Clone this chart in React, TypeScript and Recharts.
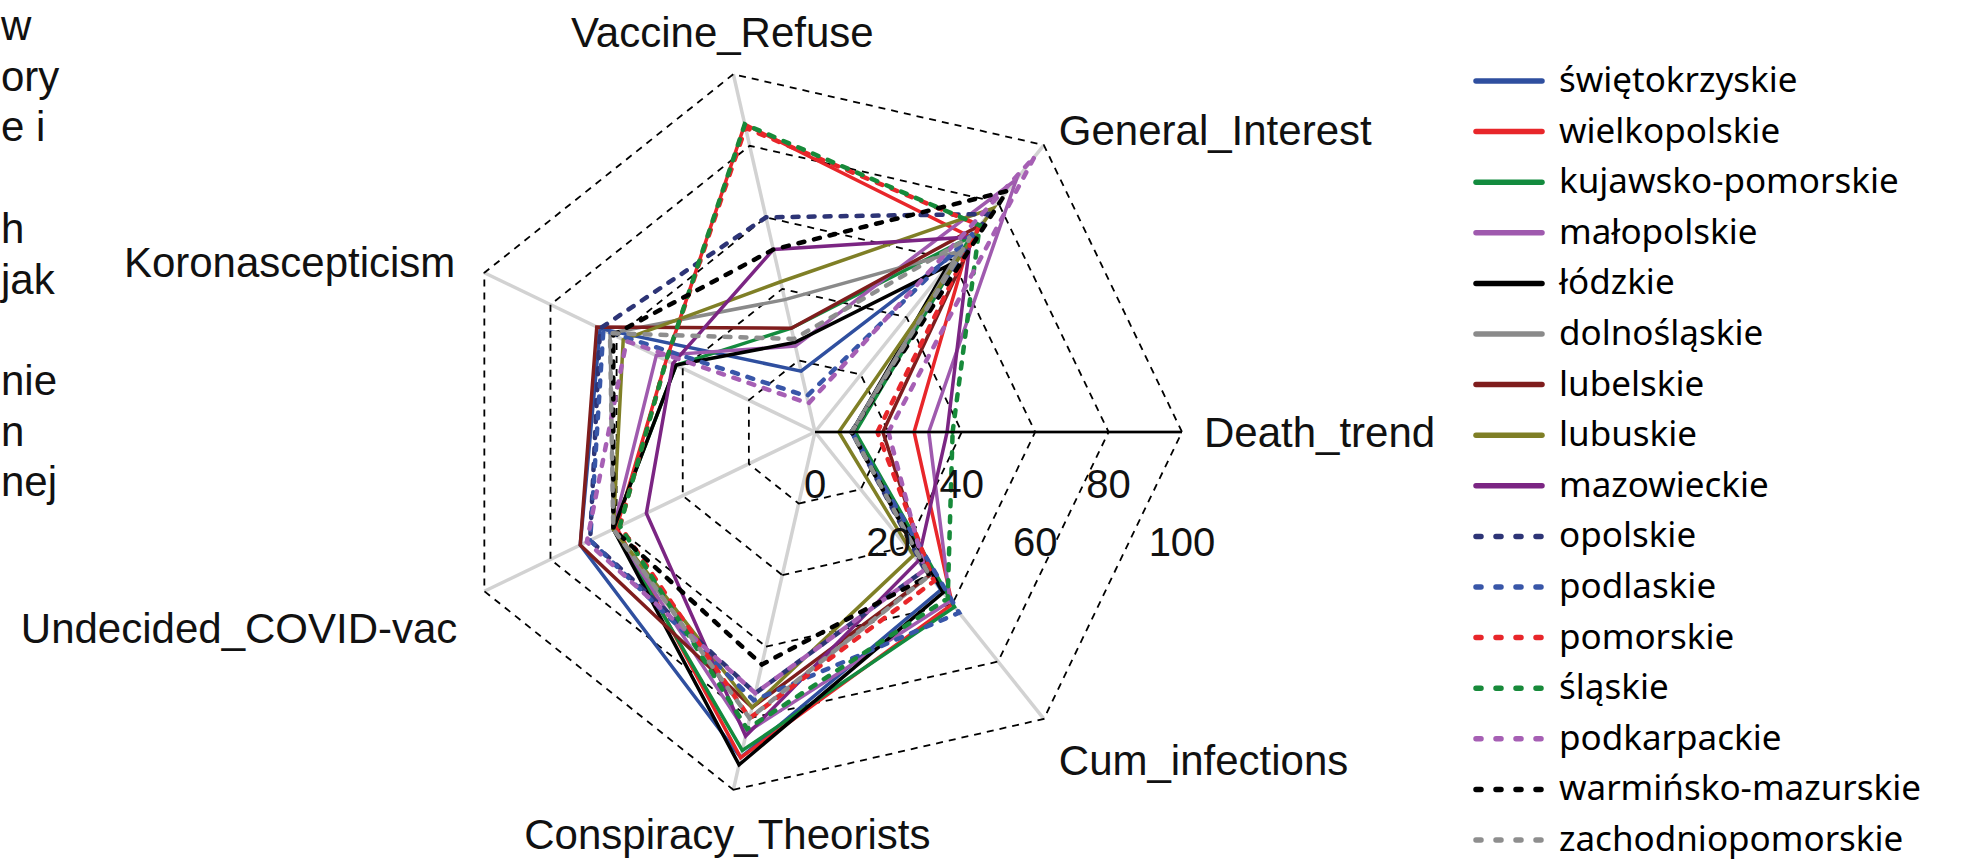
import { Legend, PolarAngleAxis, PolarGrid, PolarRadiusAxis, Radar, RadarChart } from "recharts";

const AXES = [
  "Death_trend",
  "General_Interest",
  "Vaccine_Refuse",
  "Koronascepticism",
  "Undecided_COVID-vac",
  "Conspiracy_Theorists",
  "Cum_infections",
];

// values per region, in AXES order
const swietokrzyskie = [10, 64, 17, 65, 71, 91, 55];
const wielkopolskie = [27, 68, 86, 45, 60, 91, 60];
const kujawskoPomorskie = [11, 68, 29, 42, 61, 89, 61];
const malopolskie = [31, 88, 24, 48, 61, 84, 59];
const lodzkie = [10, 58, 25, 42, 61, 93, 56];
const dolnoslaskie = [10, 63, 37, 62, 61, 80, 50];
const lubelskie = [18.5, 72, 29, 66, 71, 77, 50];
const lubuskie = [6.5, 78, 42, 58, 61, 77, 43];
const mazowieckie = [36, 68, 51, 43, 51, 85, 45];
const opolskie = [10, 76, 60, 65, 68, 73, 48];
const podlaskie = [10, 70, 10, 64, 68, 75, 63];
const pomorskie = [17, 72, 85, 45, 59, 80, 52];
const slaskie = [37.5, 72, 86, 45, 59, 83, 58];
const podkarpackie = [20, 96, 8, 57, 69, 73, 48];
const warminskoMazurskie = [10, 84, 51, 61, 61, 65, 50];
const zachodniopomorskie = [10, 68, 26, 62, 61, 80, 50];

const RADIUS_TICKS = [0, 20, 40, 60, 80, 100];

// cut-off text from the page on the left
const SIDE_TEXT = ["w", "ory", "e i", "", "h", "jak", "", "nie", "n", "nej"];

type Series = { key: string; name: string; values: number[]; color: string; dashed: boolean };

const SERIES: Series[] = [
  { key: "s1", name: "świętokrzyskie", values: swietokrzyskie, color: "#2f4f9f", dashed: false },
  { key: "s2", name: "wielkopolskie", values: wielkopolskie, color: "#e8262a", dashed: false },
  { key: "s3", name: "kujawsko-pomorskie", values: kujawskoPomorskie, color: "#138b3e", dashed: false },
  { key: "s4", name: "małopolskie", values: malopolskie, color: "#9f5aae", dashed: false },
  { key: "s5", name: "łódzkie", values: lodzkie, color: "#000000", dashed: false },
  { key: "s6", name: "dolnośląskie", values: dolnoslaskie, color: "#8a8a8a", dashed: false },
  { key: "s7", name: "lubelskie", values: lubelskie, color: "#7f1d1d", dashed: false },
  { key: "s8", name: "lubuskie", values: lubuskie, color: "#7f7f26", dashed: false },
  { key: "s9", name: "mazowieckie", values: mazowieckie, color: "#7b2583", dashed: false },
  { key: "s10", name: "opolskie", values: opolskie, color: "#2d3476", dashed: true },
  { key: "s11", name: "podlaskie", values: podlaskie, color: "#3856a8", dashed: true },
  { key: "s12", name: "pomorskie", values: pomorskie, color: "#e8262a", dashed: true },
  { key: "s13", name: "śląskie", values: slaskie, color: "#178a3a", dashed: true },
  { key: "s14", name: "podkarpackie", values: podkarpackie, color: "#a65fb4", dashed: true },
  { key: "s15", name: "warmińsko-mazurskie", values: warminskoMazurskie, color: "#000000", dashed: true },
  { key: "s16", name: "zachodniopomorskie", values: zachodniopomorskie, color: "#8e8e8e", dashed: true },
];

const data = AXES.map((axis, i) => {
  const row: Record<string, string | number> = { axis };
  SERIES.forEach((s) => (row[s.key] = s.values[i]));
  return row;
});

const W = 1970;
const H = 862;
const CX = 815;
const CY = 432;
const R = 367;
const STEP = 360 / AXES.length;
const ARIAL = "'Liberation Sans', Arial, sans-serif";

// where each axis label sits relative to its outer vertex
const LABEL_PLACE: Array<{ anchor: "start" | "middle" | "end"; dx: number; dy: number }> = [
  { anchor: "start", dx: 22, dy: 15 },
  { anchor: "start", dx: 15, dy: 0 },
  { anchor: "middle", dx: -11, dy: -27 },
  { anchor: "end", dx: -29, dy: 4 },
  { anchor: "end", dx: -27, dy: 52 },
  { anchor: "middle", dx: -6, dy: 59 },
  { anchor: "start", dx: 15, dy: 56 },
];

function AngleTick(props: any) {
  const { payload, index } = props;
  const a = (index * 2 * Math.PI) / AXES.length;
  const vx = CX + R * Math.cos(a);
  const vy = CY - R * Math.sin(a);
  const p = LABEL_PLACE[index];
  return (
    <text x={vx + p.dx} y={vy + p.dy} textAnchor={p.anchor} fontFamily={ARIAL} fontSize={42} fill="#111">
      {payload.value}
    </text>
  );
}

function RadiusTick(props: any) {
  const { x, y, payload, index } = props;
  return (
    <text x={x} y={y + (index % 2 === 0 ? 66 : 124)} textAnchor="middle" fontFamily={ARIAL} fontSize={40} fill="#111">
      {payload.value}
    </text>
  );
}

function LegendBox() {
  return (
    <svg width={500} height={807}>
      {SERIES.map((s, i) => {
        const y = 26 + i * 50.6;
        return (
          <g key={s.key}>
            <line
              x1={6}
              x2={72}
              y1={y}
              y2={y}
              stroke={s.color}
              strokeWidth={5.5}
              strokeLinecap="round"
              strokeDasharray={s.dashed ? "5 15" : undefined}
            />
            <text x={89} y={y + 11} fontFamily="'Noto Sans', 'Open Sans', sans-serif" fontSize={35} fill="#000">
              {s.name}
            </text>
          </g>
        );
      })}
    </svg>
  );
}

export default function App() {
  return (
    <div style={{ position: "relative", width: W, height: H, background: "#fff", overflow: "hidden" }}>
      <style>{"body{margin:0}"}</style>
      <svg width={120} height={H} style={{ position: "absolute", left: 0, top: 0 }}>
        {SIDE_TEXT.map((t, i) => (
          <text key={i} x={1} y={40 + i * 50.7} fontFamily={ARIAL} fontSize={42} fill="#111">
            {t}
          </text>
        ))}
      </svg>
      <div style={{ position: "absolute", left: 0, top: 0 }}>
        <RadarChart
          width={W}
          height={H}
          data={data}
          cx={CX}
          cy={CY}
          outerRadius={R}
          startAngle={-STEP}
          endAngle={360 - STEP}
          margin={{ top: 0, right: 0, bottom: 0, left: 0 }}
        >
          <PolarGrid gridType="polygon" radialLines polarRadius={[]} stroke="#d2d2d2" strokeWidth={3.5} />
          <PolarGrid gridType="polygon" radialLines={false} stroke="#000" strokeWidth={1.8} strokeDasharray="7 6" />
          <PolarAngleAxis dataKey="axis" tick={(p: any) => <AngleTick {...p} />} tickLine={false} axisLine={false} />
          {SERIES.map((s) => (
            <Radar
              key={s.key}
              name={s.name}
              dataKey={s.key}
              stroke={s.color}
              strokeWidth={s.dashed ? 4.5 : 3.5}
              strokeDasharray={s.dashed ? "6 10" : undefined}
              strokeLinecap={s.dashed ? "round" : "butt"}
              fill="none"
              fillOpacity={0}
              dot={false}
              isAnimationActive={false}
            />
          ))}
          <PolarRadiusAxis
            angle={0}
            type="number"
            domain={[0, 100]}
            ticks={RADIUS_TICKS as any}
            tickCount={6}
            axisLine={{ stroke: "#000", strokeWidth: 2.5 }}
            tickLine={false}
            tick={(p: any) => <RadiusTick {...p} />}
          />
          <Legend
            layout="vertical"
            content={() => <LegendBox />}
            wrapperStyle={{ position: "absolute", left: 1470, top: 55, width: 500 }}
          />
        </RadarChart>
      </div>
    </div>
  );
}
